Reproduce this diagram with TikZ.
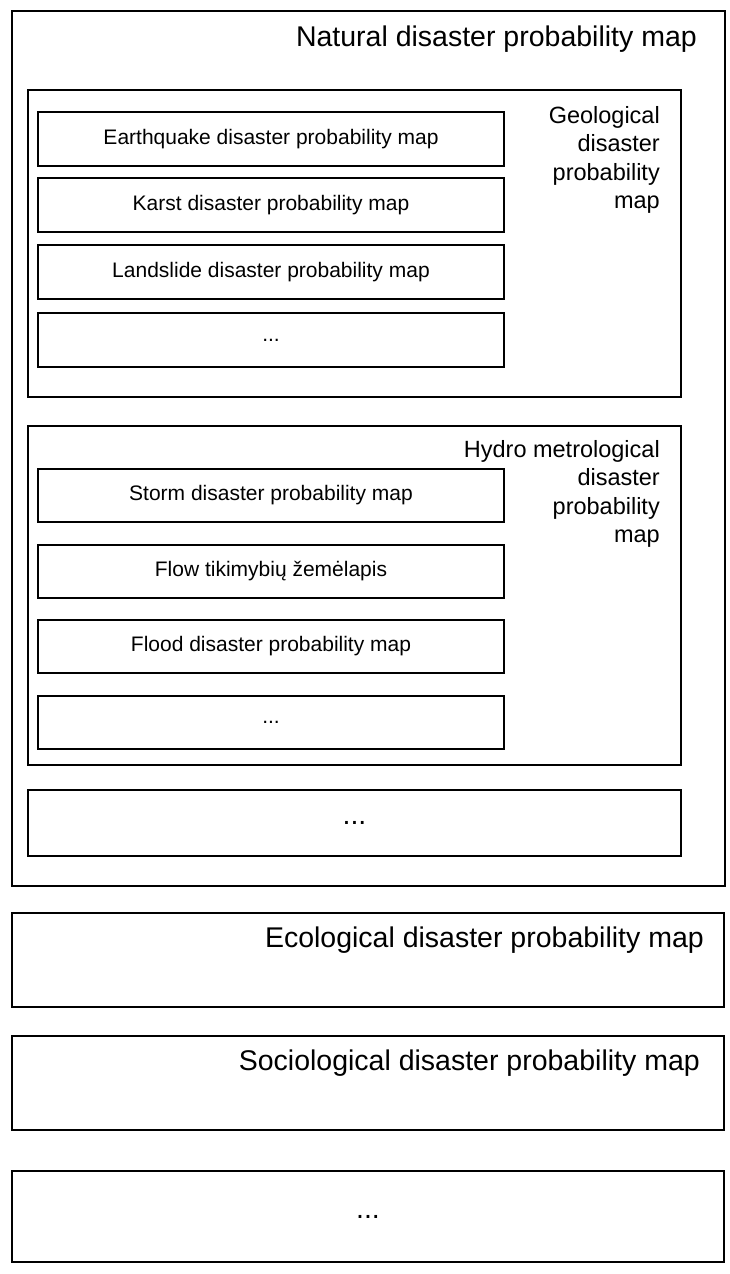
\documentclass[tikz,border=0pt]{standalone}
\usepackage{fontspec}
\setmainfont{Liberation Sans}
\begin{document}
\begin{tikzpicture}[x=1pt,y=-1pt,
  box/.style={draw=black, line width=2pt, inner sep=0pt, outer sep=0pt},
  small/.style={font=\fontsize{21}{25}\selectfont},
  big/.style={font=\fontsize{28.5}{34}\selectfont},
  mid/.style={font=\fontsize{23.5}{28.5}\selectfont, align=right, inner sep=0pt, anchor=north east}]
\useasboundingbox (0,0) rectangle (730,1274);
% outer natural box
\node[box, minimum width=713pt, minimum height=875pt] (nat) at (368.5,448.5) {};
\node[big, anchor=base east, inner sep=0pt] (natt) at (697,46) {Natural disaster probability map};
% geological
\node[box, minimum width=653pt, minimum height=307pt] (geo) at (354.5,243.5) {};
\node[mid] (geot) at (660,106) {Geological\\disaster\\probability\\map};
\node[box, small, minimum width=466pt, minimum height=54pt] (eq) at (271,139) {Earthquake disaster probability map};
\node[box, small, minimum width=466pt, minimum height=54pt] (ka) at (271,205) {Karst disaster probability map};
\node[box, small, minimum width=466pt, minimum height=54pt] (la) at (271,272) {Landslide disaster probability map};
\node[box, small, minimum width=466pt, minimum height=54pt] (gd) at (271,340) {...};
% hydro
\node[box, minimum width=653pt, minimum height=339pt] (hy) at (354.5,595.5) {};
\node[mid] (hyt) at (660,440) {Hydro metrological\\disaster\\probability\\map};
\node[box, small, minimum width=466pt, minimum height=53pt] (st) at (271,495.5) {Storm disaster probability map};
\node[box, small, minimum width=466pt, minimum height=53pt] (fl) at (271,571.5) {Flow tikimybių žemėlapis};
\node[box, small, minimum width=466pt, minimum height=53pt] (fd) at (271,646.5) {Flood disaster probability map};
\node[box, small, minimum width=466pt, minimum height=53pt] (hd) at (271,722.5) {...};
% other natural
\node[box, big, minimum width=653pt, minimum height=66pt] (nd) at (354.5,823) {...};
% ecological
\node[box, minimum width=712pt, minimum height=94pt] (eco) at (368,960) {};
\node[big, anchor=base east, inner sep=0pt] (ecot) at (704,947) {Ecological disaster probability map};
% sociological
\node[box, minimum width=712pt, minimum height=94pt] (soc) at (368,1083) {};
\node[big, anchor=base east, inner sep=0pt] (soct) at (700,1070) {Sociological disaster probability map};
% others
\node[box, big, minimum width=712pt, minimum height=91pt] (oth) at (368,1216.5) {...};
\end{tikzpicture}
\end{document}
